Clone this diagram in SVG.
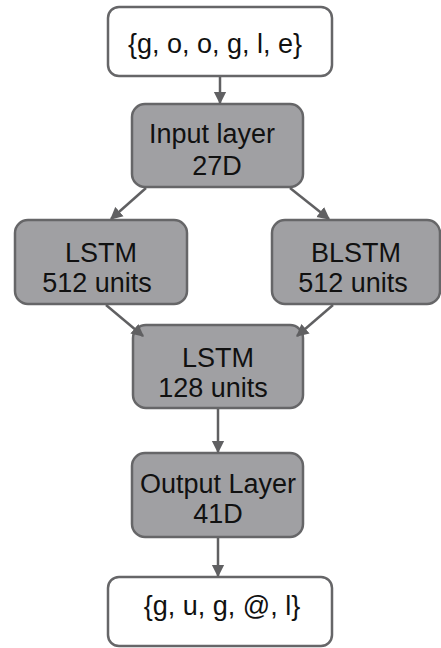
<svg xmlns="http://www.w3.org/2000/svg" width="441" height="648" viewBox="0 0 441 648">
  <style>
    .box { stroke: #666668; stroke-width: 2.5; }
    .io { fill: #ffffff; }
    .layer { fill: #a0a0a3; }
    text { font-family: "Liberation Sans", Arial, sans-serif; font-size: 27px; fill: #111; text-anchor: middle; }
    .edge { stroke: #606062; stroke-width: 2.5; fill: none; marker-end: url(#arrow); }
  </style>
  <defs>
    <marker id="arrow" viewBox="0 0 10 10" refX="9" refY="5" markerWidth="5" markerHeight="5.5" orient="auto" markerUnits="strokeWidth">
      <path d="M0,0 L10,5 L0,10 Z" fill="#606062"/>
    </marker>
  </defs>

  <g id="input-seq">
    <rect class="box io" x="108" y="7" width="224" height="69" rx="11"/>
    <text x="215" y="53">{g, o, o, g, l, e}</text>
  </g>

  <g id="input-layer">
    <rect class="box layer" x="132" y="104" width="171" height="83" rx="13"/>
    <text x="212" y="143">Input layer</text>
    <text x="217" y="175">27D</text>
  </g>

  <g id="lstm-512">
    <rect class="box layer" x="15" y="220" width="172" height="84" rx="13"/>
    <text x="101" y="262">LSTM</text>
    <text x="97" y="292">512 units</text>
  </g>

  <g id="blstm-512">
    <rect class="box layer" x="272" y="220" width="168" height="84" rx="13"/>
    <text x="356" y="262">BLSTM</text>
    <text x="353" y="292">512 units</text>
  </g>

  <g id="lstm-128">
    <rect class="box layer" x="133" y="325" width="170" height="83" rx="13"/>
    <text x="218" y="367">LSTM</text>
    <text x="213" y="397">128 units</text>
  </g>

  <g id="output-layer">
    <rect class="box layer" x="132" y="453" width="171" height="84" rx="13"/>
    <text x="218" y="493">Output Layer</text>
    <text x="218" y="523">41D</text>
  </g>

  <g id="output-seq">
    <rect class="box io" x="108" y="577" width="224" height="69" rx="11"/>
    <text x="222" y="615">{g, u, g, @, l}</text>
  </g>

  <g id="connectors">
    <line class="edge" x1="220" y1="77" x2="220" y2="103"/>
    <line class="edge" x1="146" y1="188" x2="111" y2="219"/>
    <line class="edge" x1="290" y1="188" x2="329" y2="219"/>
    <line class="edge" x1="106" y1="305" x2="143" y2="336"/>
    <line class="edge" x1="333" y1="305" x2="297" y2="336"/>
    <line class="edge" x1="218" y1="409" x2="218" y2="452"/>
    <line class="edge" x1="218" y1="538" x2="218" y2="576"/>
  </g>
</svg>
